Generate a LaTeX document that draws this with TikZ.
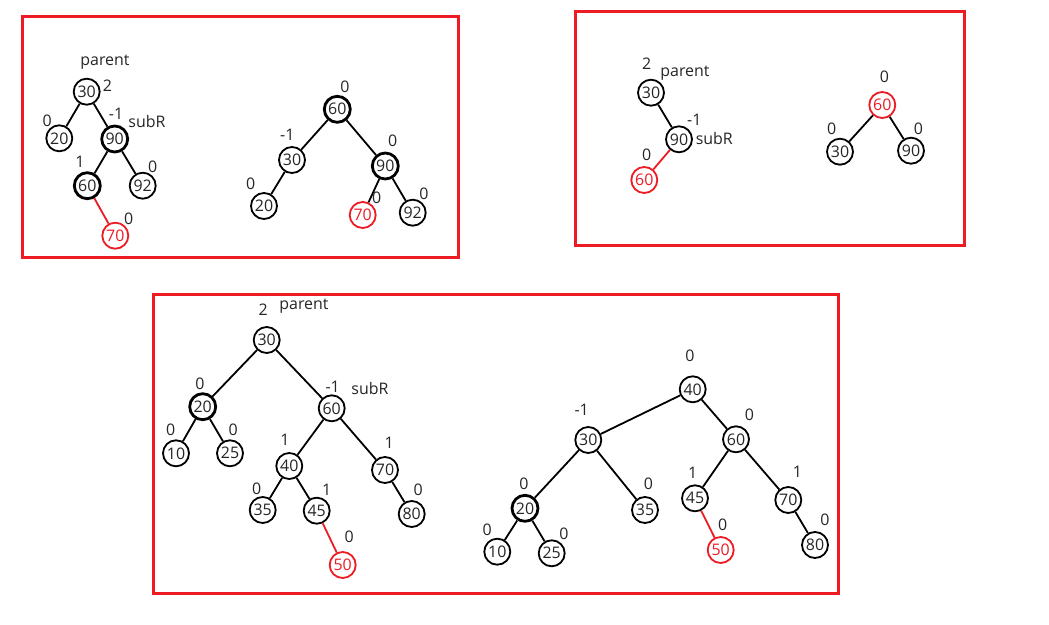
\documentclass[tikz,border=0pt]{standalone}
\usepackage{fontspec}
\setmainfont{Open Sans}
\definecolor{pred}{RGB}{237,28,36}
\begin{document}
\begin{tikzpicture}[x=1bp,y=-1bp,
  tn/.style={circle,draw=black,line width=1.8bp,minimum size=26bp,inner sep=0pt,font=\fontsize{16}{19}\selectfont,text=black!85},
  bn/.style={tn,line width=2.8bp},
  rn/.style={tn,draw=pred,text=pred},
  lbl/.style={inner sep=0pt,font=\fontsize{16}{19}\selectfont,text=black!85},
  ed/.style={line width=1.8bp,black},
  red/.style={line width=1.8bp,pred},
  frame/.style={draw=pred,line width=3bp}]
\useasboundingbox (0,0) rectangle (1049,625);
\fill[white] (0,0) rectangle (1049,625);
% frames
\draw[frame] (22,17) rectangle (458,258);
\draw[frame] (575,12) rectangle (964,246);
\draw[frame] (153,294) rectangle (838,593);

% ---------- tree 1 ----------
\node[tn] (a30) at (86.7,91.7) {30};
\node[tn] (a20) at (59.3,138.3) {20};
\node[bn] (a90) at (114.7,139) {90};
\node[bn] (a60) at (87.3,185.7) {60};
\node[tn] (a92) at (142.7,185.7) {92};
\node[rn] (a70) at (115.3,235.7) {70};
\draw[ed] (a30) -- (a20);
\draw[ed] (a30) -- (a90);
\draw[ed] (a90) -- (a60);
\draw[ed] (a90) -- (a92);
\draw[red] (a60) -- (a70);
\node[lbl] (al1) at (105,62) {parent};
\node[lbl] (al2) at (107.5,86) {2};
\node[lbl] (al3) at (47.3,121) {0};
\node[lbl] (al4) at (116,114) {-1};
\node[lbl] (al5) at (147,122) {subR};
\node[lbl] (al6) at (80,161.7) {1};
\node[lbl] (al7) at (152.7,166.7) {0};
\node[lbl] (al8) at (128.7,218.3) {0};

% ---------- tree 2 ----------
\node[bn] (b60) at (337.3,109.3) {60};
\node[tn] (b30) at (292,160) {30};
\node[bn] (b90) at (385.3,166) {90};
\node[tn] (b20) at (264,206) {20};
\node[rn] (b70) at (362.7,215) {70};
\node[tn] (b92) at (412.7,212.7) {92};
\draw[ed] (b60) -- (b30);
\draw[ed] (b60) -- (b90);
\draw[ed] (b30) -- (b20);
\draw[ed] (b90) -- (b70);
\draw[ed] (b90) -- (b92);
\node[lbl] (bl1) at (345,86.7) {0};
\node[lbl] (bl2) at (287.3,135) {-1};
\node[lbl] (bl3) at (392.7,140.7) {0};
\node[lbl] (bl4) at (250.7,183.3) {0};
\node[lbl] (bl5) at (376.7,197.3) {0};
\node[lbl] (bl6) at (424,194) {0};

% ---------- tree 3 ----------
\node[tn] (c30) at (651,92.7) {30};
\node[tn] (c90) at (679,139.3) {90};
\node[rn] (c60) at (644.3,180) {60};
\draw[ed] (c30) -- (c90);
\draw[red] (c90) -- (c60);
\node[lbl] (cl1) at (646.7,63.3) {2};
\node[lbl] (cl2) at (685,72.7) {parent};
\node[lbl] (cl3) at (694.3,120) {-1};
\node[lbl] (cl4) at (714.3,138.3) {subR};
\node[lbl] (cl5) at (646.7,155) {0};

\node[rn] (d60) at (882.3,105) {60};
\node[tn] (d30) at (840,151.7) {30};
\node[tn] (d90) at (911,150.7) {90};
\draw[ed] (d60) -- (d30);
\draw[ed] (d60) -- (d90);
\node[lbl] (dl1) at (884.3,76.7) {0};
\node[lbl] (dl2) at (831.7,128.3) {0};
\node[lbl] (dl3) at (918.3,128.3) {0};

% ---------- tree 4 ----------
\node[tn] (e30) at (266.7,340) {30};
\node[bn] (e20) at (202.7,406.7) {20};
\node[tn] (e60) at (331.7,408.3) {60};
\node[tn] (e10) at (176,453.3) {10};
\node[tn] (e25) at (230,453.3) {25};
\node[tn] (e40) at (289.3,466) {40};
\node[tn] (e70) at (385,470) {70};
\node[tn] (e35) at (262.7,510) {35};
\node[tn] (e45) at (316.7,510.7) {45};
\node[tn] (e80) at (411.7,514) {80};
\node[rn] (e50) at (342.7,565) {50};
\draw[ed] (e30) -- (e20);
\draw[ed] (e30) -- (e60);
\draw[ed] (e20) -- (e10);
\draw[ed] (e20) -- (e25);
\draw[ed] (e60) -- (e40);
\draw[ed] (e60) -- (e70);
\draw[ed] (e40) -- (e35);
\draw[ed] (e40) -- (e45);
\draw[ed] (e70) -- (e80);
\draw[red] (e45) -- (e50);
\node[lbl] (el1) at (263.3,310) {2};
\node[lbl] (el2) at (304,306) {parent};
\node[lbl] (el3) at (200,383.3) {0};
\node[lbl] (el4) at (332.7,387.3) {-1};
\node[lbl] (el5) at (370,388.3) {subR};
\node[lbl] (el6) at (170.7,430) {0};
\node[lbl] (el7) at (233.3,430) {0};
\node[lbl] (el8) at (285,440) {1};
\node[lbl] (el9) at (389.3,442.7) {1};
\node[lbl] (el10) at (256.7,488.3) {0};
\node[lbl] (el11) at (326.7,490) {1};
\node[lbl] (el12) at (418.3,489.3) {0};
\node[lbl] (el13) at (349.3,536.7) {0};

% ---------- tree 5 ----------
\node[tn] (f40) at (692.7,389.3) {40};
\node[tn] (f30) at (588.3,440) {30};
\node[tn] (f60) at (736,439.3) {60};
\node[bn] (f20) at (525,508.3) {20};
\node[tn] (f35) at (645,510) {35};
\node[tn] (f45) at (695,498.3) {45};
\node[tn] (f70) at (788.3,500) {70};
\node[tn] (f10) at (497.3,551.7) {10};
\node[tn] (f25) at (551.7,553.3) {25};
\node[rn] (f50) at (720.7,550) {50};
\node[tn] (f80) at (815,545) {80};
\draw[ed] (f40) -- (f30);
\draw[ed] (f40) -- (f60);
\draw[ed] (f30) -- (f20);
\draw[ed] (f30) -- (f35);
\draw[ed] (f60) -- (f45);
\draw[ed] (f60) -- (f70);
\draw[ed] (f20) -- (f10);
\draw[ed] (f20) -- (f25);
\draw[ed] (f70) -- (f80);
\draw[red] (f45) -- (f50);
\node[lbl] (fl1) at (690,356) {0};
\node[lbl] (fl2) at (581.7,410) {-1};
\node[lbl] (fl3) at (749.3,415) {0};
\node[lbl] (fl4) at (524,483.3) {0};
\node[lbl] (fl5) at (648.3,484) {0};
\node[lbl] (fl6) at (692.7,472.7) {1};
\node[lbl] (fl7) at (797.3,471.7) {1};
\node[lbl] (fl8) at (487.3,530) {0};
\node[lbl] (fl9) at (564,533.3) {0};
\node[lbl] (fl10) at (722.7,525) {0};
\node[lbl] (fl11) at (825,520) {0};
\end{tikzpicture}
\end{document}
